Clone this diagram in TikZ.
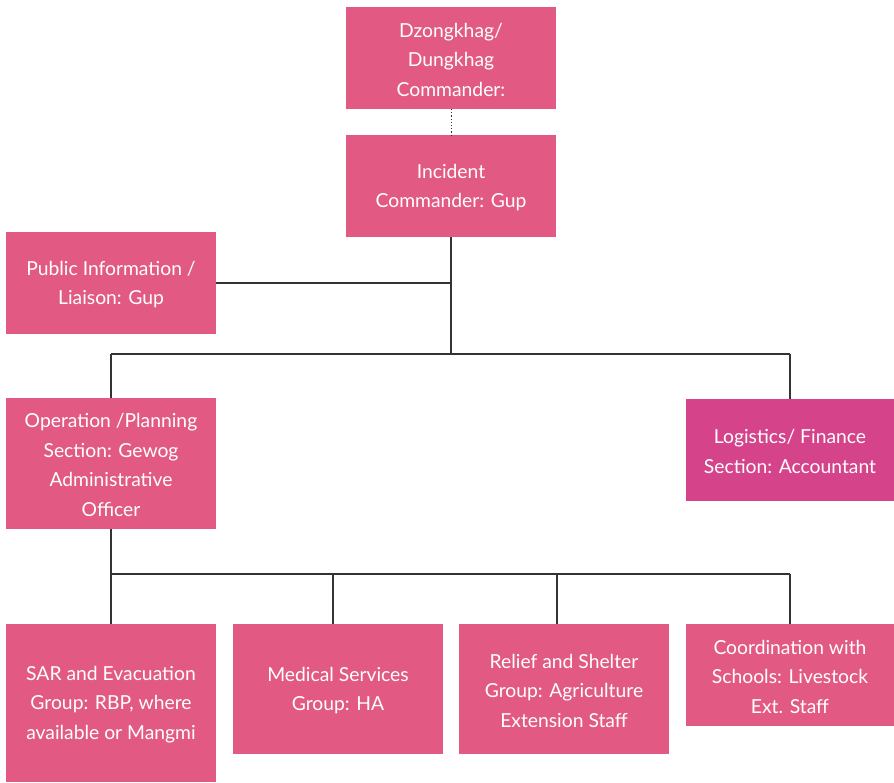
\documentclass[tikz,border=0pt]{standalone}
\usepackage{fontspec}
\setmainfont{Lato}
\definecolor{boxpink}{HTML}{E25A84}
\definecolor{boxmag}{HTML}{D5438A}
\definecolor{linegray}{HTML}{333333}
\begin{document}
\begin{tikzpicture}[x=1pt,y=-1pt,
  box/.style={fill=boxpink,draw=none,text=white,align=center,font=\fontsize{19.3}{29.5}\selectfont},
  conn/.style={draw=linegray,line width=1.2pt}]
\useasboundingbox (0,0) rectangle (894,782);
% boxes as rectangles with centered text
\newcommand{\mybox}[6]{%
  \fill[#6] (#1,#2) rectangle (#3,#4);
  \node[box,fill=none] (#5) at ({(#1+#3)/2},{(#2+#4)/2+1.5}) [minimum width={#3-#1}, minimum height={#4-#2}, inner sep=0pt]}
\mybox{346}{7}{556}{109}{top}{boxpink} {Dzongkhag/\\Dungkhag\\Commander:};
\mybox{346}{135}{556}{237}{inc}{boxpink} {Incident\\Commander: Gup};
\mybox{6}{232}{216}{334}{pub}{boxpink} {Public Information /\\Liaison: Gup};
\mybox{6}{398}{216}{529}{op}{boxpink} {Operation /Planning\\Section: Gewog\\Administrative\\Officer};
\mybox{686}{399}{894}{501}{log}{boxmag} {Logistics/ Finance\\Section: Accountant};
\mybox{6}{624}{216}{782}{sar}{boxpink} {SAR and Evacuation\\Group: RBP, where\\available or Mangmi};
\mybox{233}{624}{443}{754}{med}{boxpink} {Medical Services\\Group: HA};
\mybox{459}{624}{669}{754}{rel}{boxpink} {Relief and Shelter\\Group: Agriculture\\Extension Staff};
\mybox{686}{624}{894}{726}{coo}{boxpink} {Coordination with\\Schools: Livestock\\Ext. Staff};
% junction coordinates
\coordinate (j1) at (451,354);
\coordinate (jp) at (451,283);
\coordinate (jl) at (111,354);
\coordinate (jr) at (790,354);
\coordinate (k0) at (111,574);
\coordinate (k1) at (333,574);
\coordinate (k2) at (557,574);
\coordinate (k3) at (790,574);
\coordinate (ts) at (451,109);
\coordinate (it) at (451,135);
\coordinate (ib) at (451,237);
\coordinate (ob) at (111,529);
% connectors
\draw[conn,dotted,line width=1pt] (ts) -- (it);
\draw[conn] (ib) -- (j1);
\draw[conn] (pub.east |- jp) -- (jp);
\draw[conn] (jl) -- (jr);
\draw[conn] (jl) -- (111,398);
\draw[conn] (jr) -- (790,399);
\draw[conn] (ob) -- (111,624);
\draw[conn] (k0) -- (k3);
\draw[conn] (k1) -- (333,624);
\draw[conn] (k2) -- (557,624);
\draw[conn] (k3) -- (790,624);
\end{tikzpicture}
\end{document}
